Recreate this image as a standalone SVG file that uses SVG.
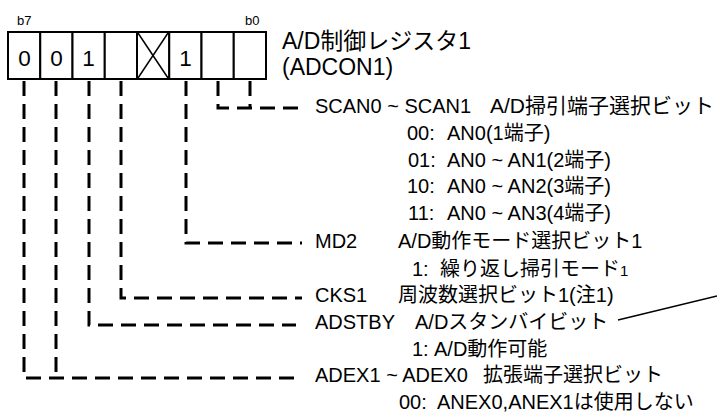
<svg xmlns="http://www.w3.org/2000/svg" width="717" height="414" viewBox="0 0 717 414">
<style>
text{font-family:"Liberation Sans","Noto Sans CJK JP",sans-serif;fill:#000}
.t{font-size:20px}
.cell{fill:#fff;stroke:#000;stroke-width:2}
.dig{font-size:22.5px;text-anchor:middle}
.bit{font-size:13px}
.title{font-size:23px}
.dash{fill:none;stroke:#000;stroke-width:3;stroke-dasharray:15 8}
.thin{fill:none;stroke:#000;stroke-width:1.5}
</style>
<rect width="717" height="414" fill="#fff"/>
<g id="register">
<text class="bit" x="17" y="25">b7</text>
<text class="bit" x="245" y="25">b0</text>
<rect class="cell" x="8" y="32" width="32.25" height="47"/>
<rect class="cell" x="40.25" y="32" width="32.25" height="47"/>
<rect class="cell" x="72.5" y="32" width="32.25" height="47"/>
<rect class="cell" x="104.75" y="32" width="32.25" height="47"/>
<rect class="cell" x="137" y="32" width="32.25" height="47"/>
<rect class="cell" x="169.25" y="32" width="32.25" height="47"/>
<rect class="cell" x="201.5" y="32" width="32.25" height="47"/>
<rect class="cell" x="233.75" y="32" width="32.25" height="47"/>
<path class="thin" d="M138,33 L168,78 M168,33 L138,78"/>
<text class="dig" x="24.5" y="66">0</text>
<text class="dig" x="56.5" y="66">0</text>
<text class="dig" x="88.5" y="66">1</text>
<text class="dig" x="185.5" y="66">1</text>
</g>
<g id="title">
<text class="title" x="282" y="49">A/D制御レジスタ1</text>
<text class="title" x="282" y="75">(ADCON1)</text>
</g>
<g id="connectors">
<path class="dash" d="M218,81 V108 H302 M250,81 V108"/>
<path class="dash" d="M186,81 V243 H302"/>
<path class="dash" d="M121,81 V298 H302"/>
<path class="dash" d="M89,81 V325 H296"/>
<path class="dash" d="M24,81 V378 H302 M56,81 V378"/>
<path class="thin" d="M618,320 L717,296"/>
</g>
<g id="scan">
<text class="t" y="113"><tspan x="315">SCAN0 ~ SCAN1</tspan><tspan x="490" font-size="21">A/D掃引端子選択ビット</tspan></text>
<text class="t" y="140"><tspan x="407">00:</tspan><tspan x="447">AN0(1端子)</tspan></text>
<text class="t" y="167"><tspan x="408">01:</tspan><tspan x="447">AN0 ~ AN1(2端子)</tspan></text>
<text class="t" y="193"><tspan x="407">10:</tspan><tspan x="447">AN0 ~ AN2(3端子)</tspan></text>
<text class="t" y="220"><tspan x="408">11:</tspan><tspan x="447">AN0 ~ AN3(4端子)</tspan></text>
</g>
<g id="md2">
<text class="t" y="248"><tspan x="315">MD2</tspan><tspan x="398">A/D動作モード選択ビット1</tspan></text>
<text class="t" y="276"><tspan x="412">1:</tspan><tspan x="440">繰り返し掃引モード</tspan><tspan font-size="15">1</tspan></text>
</g>
<g id="cks1">
<text class="t" y="302"><tspan x="315">CKS1</tspan><tspan x="398">周波数選択ビット1(注1)</tspan></text>
</g>
<g id="adstby">
<text class="t" y="329"><tspan x="315">ADSTBY</tspan><tspan x="415">A/Dスタンバイビット</tspan></text>
<text class="t" y="356"><tspan x="412">1:</tspan><tspan x="434">A/D動作可能</tspan></text>
</g>
<g id="adex">
<text class="t" y="382"><tspan x="315">ADEX1 ~ ADEX0</tspan><tspan x="483">拡張端子選択ビット</tspan></text>
<text class="t" y="409"><tspan x="399">00:</tspan><tspan x="437">ANEX0,ANEX1は使用しない</tspan></text>
</g>
</svg>
